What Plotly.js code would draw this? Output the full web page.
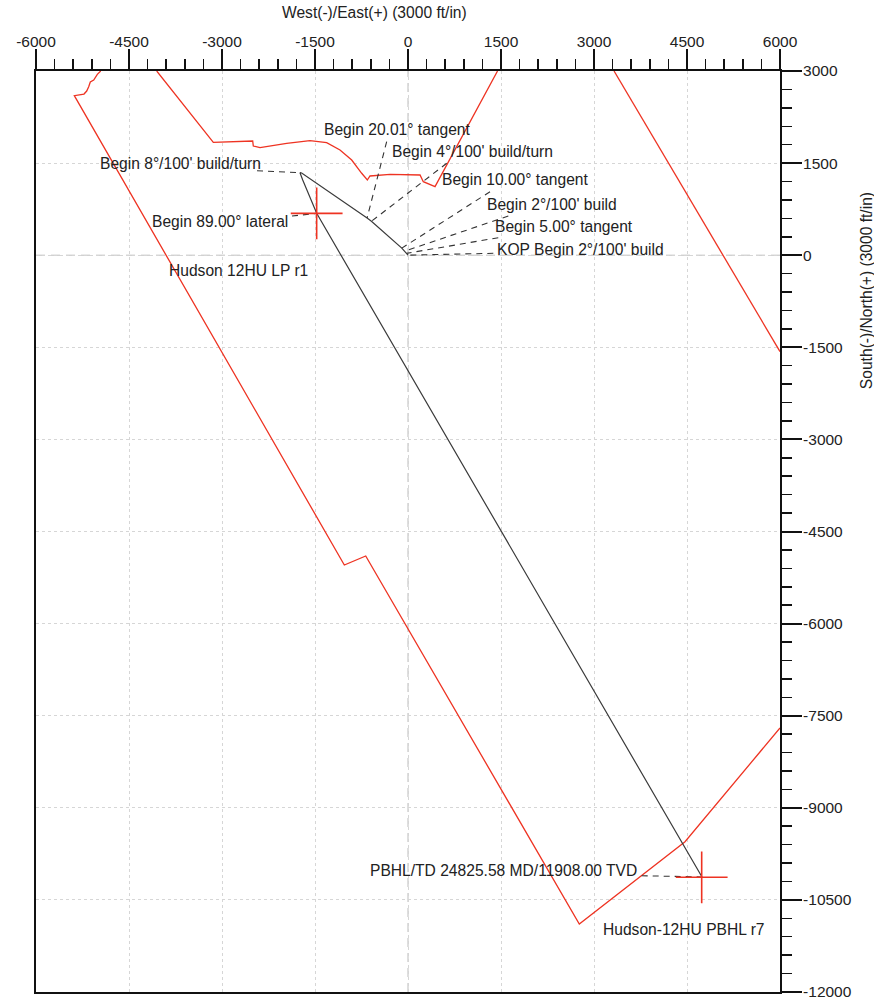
<!DOCTYPE html>
<html>
<head>
<meta charset="utf-8">
<script src="https://cdn.plot.ly/plotly-3.0.1.min.js"></script>
<style>
html,body{margin:0;padding:0;background:#fff;}
#chart{width:874px;height:1000px;}
</style>
</head>
<body>
<div id="chart"></div>
<script>
// ---------- Tick labels ----------
const xTickVals = [-6000,-4500,-3000,-1500,0,1500,3000,4500,6000];
const xTickText = ['-6000','-4500','-3000','-1500','0','1500','3000','4500','6000'];
const yTickVals = [3000,1500,0,-1500,-3000,-4500,-6000,-7500,-9000,-10500,-12000];
const yTickText = ['3000','1500','0','-1500','-3000','-4500','-6000','-7500','-9000','-10500','-12000'];

// ---------- Lease / unit boundary (red) ----------
const leaseWestX = [-4956,-5011,-5069,-5124,-5150,-5182,-5226,-5355,-5382,-1027,-682,2763,4468,6000];
const leaseWestY = [3000,2946,2853,2821,2744,2674,2625,2609,2598,-5046,-4899,-10893,-9552,-7700];

const leaseNorthX = [-4053,-3140,-2505,-2495,-2387,-1957,-1581,-1312,-1097,-908,-747,-656,-613,-290,194,247,436,1444];
const leaseNorthY = [3000,1839,1860,1778,1751,1822,1865,1832,1713,1550,1334,1225,1290,1317,1306,1197,1116,3000];

const leaseEastX = [3323,6000];
const leaseEastY = [3000,-1570];

// ---------- Well path (plan view) ----------
const wellX = [0,-25,-55,-100,-590,-660,-1715,-1742,-1698,-1608,-1473,4742];
const wellY = [0,30,65,115,552,606,1339,1344,1225,1008,682,-10127];

// ---------- Plan events ----------
const eventNames = ["KOP Begin 2°/100' build","Begin 5.00° tangent","Begin 2°/100' build",
  "Begin 10.00° tangent","Begin 4°/100' build/turn","Begin 20.01° tangent",
  "Begin 8°/100' build/turn","Begin 89.00° lateral","PBHL/TD 24825.58 MD/11908.00 TVD"];
const eventX = [0,-25,-55,-100,-590,-660,-1742,-1473,4742];
const eventY = [0,30,65,115,552,606,1344,682,-10127];

// ---------- Targets ----------
const targetNames = ['Hudson 12HU LP r1','Hudson-12HU PBHL r7'];
const targetX = [-1473,4737];
const targetY = [682,-10132];

// ---------- Label placement (layout) ----------
const eventLabelPlacement = [
  {tx:1403, ty:85,    xa:'left',  lx:1376,  ly:31},
  {tx:1376, ty:464,   xa:'left',  lx:1456,  ly:285},
  {tx:1242, ty:818,   xa:'left',  lx:1618,  ly:638},
  {tx:516,  ty:1225,  xa:'left',  lx:1323,  ly:1034},
  {tx:-290, ty:1686,  xa:'left',  lx:624,   ly:1497},
  {tx:-1392,ty:2050,  xa:'left',  lx:-344,  ly:1849},
  {tx:-2343,ty:1497,  xa:'right', lx:-2435, ly:1376},
  {tx:-1903,ty:545,   xa:'right', lx:-1871, ly:638},
  {tx:-640, ty:-10013,xa:'left',  lx:3769,  ly:-10106}
];
const targetLabelPlacement = [
  {tx:-3880, ty:-257},
  {tx:3120,  ty:-10990}
];

const FONT = 'Liberation Sans, Arial, Helvetica, sans-serif';
const RED = '#ee3322';
const TXT = 15.6;

const leaderX = [], leaderY = [];
eventNames.forEach((n,i)=>{
  const p = eventLabelPlacement[i];
  leaderX.push(p.lx, eventX[i], null);
  leaderY.push(p.ly, eventY[i], null);
});

const traces = [
  {x:leaseWestX, y:leaseWestY, mode:'lines', line:{color:RED, width:1.3}, hoverinfo:'skip'},
  {x:leaseNorthX, y:leaseNorthY, mode:'lines', line:{color:RED, width:1.3}, hoverinfo:'skip'},
  {x:leaseEastX, y:leaseEastY, mode:'lines', line:{color:RED, width:1.3}, hoverinfo:'skip'},
  {x:leaderX, y:leaderY, mode:'lines', line:{color:'#333', width:1.1, dash:'6px,5px'}, hoverinfo:'skip'},
  {x:wellX, y:wellY, mode:'lines', line:{color:'#3a3a3a', width:1.2}, hoverinfo:'skip'},
  {x:targetX, y:targetY, mode:'markers', marker:{symbol:'cross-thin', size:37, color:RED, line:{color:RED, width:1.6}}, hoverinfo:'skip'}
];

const annotations = [];
eventNames.forEach((n,i)=>{
  const p = eventLabelPlacement[i];
  annotations.push({x:p.tx, y:p.ty, xref:'x', yref:'y', text:n, showarrow:false,
    xanchor:p.xa, yanchor:'middle', font:{family:FONT, size:TXT, color:'#222'}});
});
targetNames.forEach((n,i)=>{
  const p = targetLabelPlacement[i];
  annotations.push({x:p.tx, y:p.ty, xref:'x', yref:'y', text:n, showarrow:false,
    xanchor:'left', yanchor:'middle', font:{family:FONT, size:TXT, color:'#222'}});
});
annotations.push({xref:'paper', yref:'paper', x:0.455, y:1.064, text:'West(-)/East(+) (3000 ft/in)',
  showarrow:false, xanchor:'center', yanchor:'middle', font:{family:FONT, size:TXT, color:'#222'}});
annotations.push({xref:'paper', yref:'paper', x:1.1156, y:0.761, text:'South(-)/North(+) (3000 ft/in)',
  showarrow:false, textangle:-90, xanchor:'center', yanchor:'middle', font:{family:FONT, size:TXT, color:'#222'}});

const shapes = [
  {type:'line', xref:'x', yref:'paper', x0:0, x1:0, y0:0, y1:1, line:{color:'#bdbdbd', width:1, dash:'9px,6px'}, layer:'below'},
  {type:'line', xref:'paper', yref:'y', x0:0, x1:1, y0:0, y1:0, line:{color:'#bdbdbd', width:1, dash:'9px,6px'}, layer:'below'}
];

const axisCommon = {
  tickmode:'array', ticks:'outside', ticklen:20, tickwidth:2, tickcolor:'#111',
  showline:true, linecolor:'#111', linewidth:2, mirror:true,
  showgrid:true, gridcolor:'#d6d6d6', gridwidth:1, griddash:'dot',
  zeroline:false, fixedrange:true, ticklabeloverflow:'allow',
  tickfont:{family:FONT, size:15.5, color:'#222'},
  minor:{tickmode:'linear', tick0:0, dtick:300, ticks:'outside', ticklen:10, tickwidth:1.5, tickcolor:'#111', showgrid:false}
};

const layout = {
  width:874, height:1000,
  margin:{l:36, r:94, t:71, b:8, pad:0},
  paper_bgcolor:'#fff', plot_bgcolor:'#fff',
  showlegend:false,
  font:{family:FONT, size:15, color:'#222'},
  xaxis:Object.assign({}, axisCommon, {range:[-6000,6000], side:'top', tickvals:xTickVals, ticktext:xTickText, ticklabelstandoff:-4}),
  yaxis:Object.assign({}, axisCommon, {range:[-12000,3000], side:'right', tickvals:yTickVals, ticktext:yTickText, ticklabelstandoff:-2}),
  annotations:annotations,
  shapes:shapes
};

Plotly.newPlot('chart', traces, layout, {displayModeBar:false, staticPlot:true});
</script>
</body>
</html>
